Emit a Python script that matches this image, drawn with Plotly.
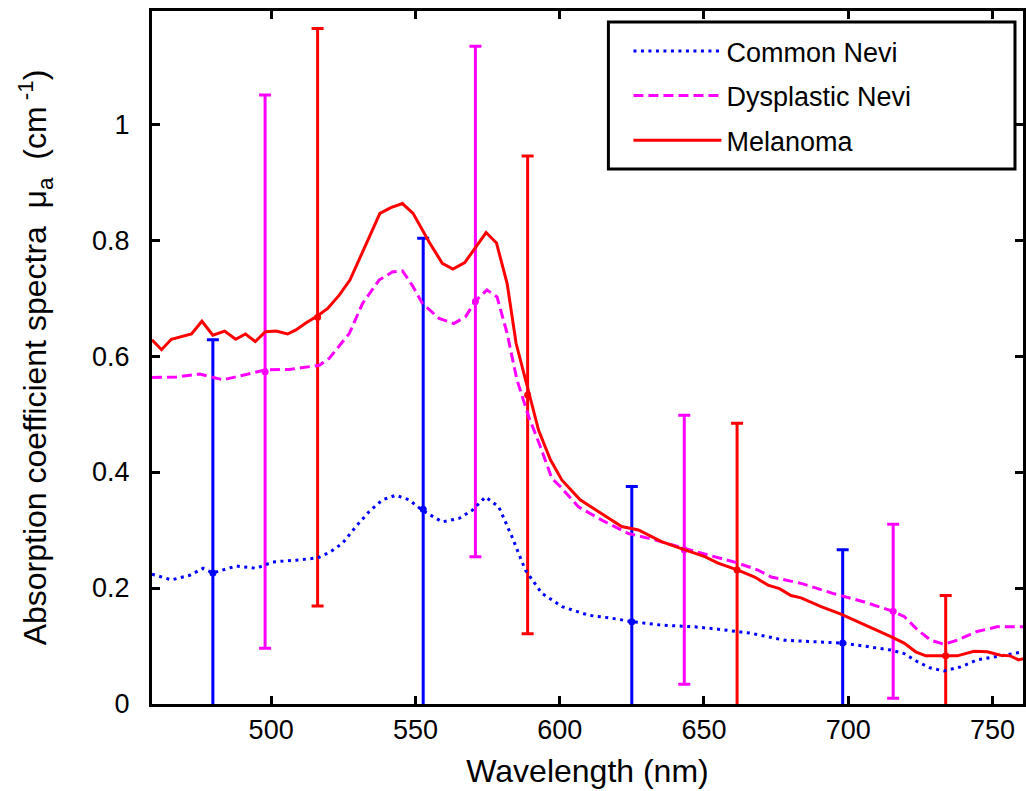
import plotly.graph_objects as go

# ---- data ----
common_wl = [458.7, 465.4, 471.8, 476.4, 479.8, 487.9, 494.8, 500.6, 508.6, 516.1, 520.1, 524.7,
             529.4, 534.0, 538.6, 543.2, 547.8, 552.4, 559.3, 565.1, 569.7, 574.3, 578.9, 583.5,
             588.1, 593.8, 600.8, 610.0, 618.0, 625.0, 635.3, 646.9, 654.9, 666.4, 677.9, 689.5,
             698.1, 706.7, 714.8, 719.4, 724.0, 728.6, 733.2, 739.0, 744.7, 751.6, 760.6]
common_val = [0.224, 0.214, 0.222, 0.234, 0.226, 0.238, 0.234, 0.245, 0.248, 0.252, 0.261, 0.277,
              0.306, 0.332, 0.352, 0.360, 0.352, 0.334, 0.314, 0.320, 0.334, 0.357, 0.340, 0.288,
              0.231, 0.191, 0.168, 0.153, 0.148, 0.142, 0.136, 0.133, 0.129, 0.122, 0.110, 0.107,
              0.105, 0.099, 0.093, 0.087, 0.073, 0.062, 0.057, 0.064, 0.076, 0.082, 0.090]

dysp_wl = [458.7, 467.2, 475.2, 483.3, 490.2, 498.0, 506.3, 516.7, 520.1, 527.1, 531.7, 537.4,
           542.0, 545.5, 548.9, 552.4, 558.2, 563.3, 567.4, 570.8, 574.8, 578.3, 581.8, 585.2,
           589.3, 593.3, 597.3, 600.2, 606.5, 614.6, 623.8, 633.0, 643.4, 654.9, 661.8, 668.7,
           673.3, 683.7, 695.2, 705.6, 714.8, 719.4, 724.0, 728.6, 733.2, 737.8, 744.7, 751.6, 760.6]
dysp_val = [0.563, 0.564, 0.569, 0.559, 0.567, 0.576, 0.577, 0.584, 0.596, 0.639, 0.691, 0.731,
            0.745, 0.747, 0.722, 0.691, 0.665, 0.656, 0.668, 0.695, 0.714, 0.702, 0.639, 0.559,
            0.495, 0.444, 0.389, 0.375, 0.340, 0.317, 0.294, 0.283, 0.268, 0.253, 0.243, 0.231,
            0.219, 0.208, 0.190, 0.176, 0.161, 0.151, 0.128, 0.110, 0.103, 0.110, 0.125, 0.133, 0.133]

mel_wl = [458.7, 462.0, 465.4, 472.4, 476.0, 479.8, 483.9, 487.7, 491.1, 494.5, 498.0, 501.7,
          505.7, 508.6, 512.0, 516.0, 519.6, 523.6, 527.3, 530.5, 535.1, 537.7, 541.5, 545.5,
          549.2, 553.0, 554.7, 559.3, 563.0, 567.1, 570.8, 574.5, 578.1, 581.8, 584.9, 589.3,
          592.7, 596.8, 600.8, 607.1, 613.4, 621.5, 627.3, 635.3, 642.2, 650.3, 654.9, 661.8,
          667.6, 672.2, 676.2, 680.2, 683.7, 690.6, 697.5, 702.1, 705.6, 714.8, 719.4, 723.4,
          726.9, 733.8, 737.8, 743.6, 748.2, 752.8, 756.2, 759.1, 760.6]
mel_val = [0.628, 0.611, 0.629, 0.638, 0.660, 0.636, 0.643, 0.629, 0.638, 0.625, 0.642, 0.643,
           0.638, 0.645, 0.657, 0.669, 0.682, 0.705, 0.731, 0.766, 0.817, 0.846, 0.856, 0.863,
           0.846, 0.811, 0.797, 0.760, 0.750, 0.761, 0.788, 0.813, 0.795, 0.725, 0.622, 0.536,
           0.472, 0.421, 0.386, 0.352, 0.332, 0.306, 0.300, 0.280, 0.268, 0.254, 0.243, 0.231,
           0.219, 0.205, 0.199, 0.187, 0.183, 0.168, 0.155, 0.145, 0.136, 0.116, 0.105, 0.090,
           0.083, 0.083, 0.083, 0.091, 0.090, 0.084, 0.083, 0.076, 0.078]

# error bars (symmetric)
common_eb_wl = [479.8, 552.7, 625.0, 698.1]
common_eb_val = [0.226, 0.336, 0.142, 0.105]
common_eb_err = [0.402, 0.467, 0.233, 0.161]

dysp_eb_wl = [497.9, 570.8, 643.2, 715.6]
dysp_eb_val = [0.573, 0.694, 0.266, 0.160]
dysp_eb_err = [0.477, 0.440, 0.232, 0.150]

mel_eb_wl = [516.1, 588.9, 661.5, 733.8]
mel_eb_val = [0.667, 0.533, 0.231, 0.083]
mel_eb_err = [0.498, 0.412, 0.253, 0.104]

series_names = ["Common Nevi", "Dysplastic Nevi", "Melanoma"]
x_ticks = [500, 550, 600, 650, 700, 750]
y_ticks = [0, 0.2, 0.4, 0.6, 0.8, 1.0]

BLUE = "#0000ff"
MAG = "#ff00ff"
RED = "#ff0000"
FONT = "Liberation Sans, Arial, sans-serif"

fig = go.Figure()

specs = [
    (common_wl, common_val, common_eb_wl, common_eb_val, common_eb_err, BLUE, "3px,4.5px", series_names[0]),
    (dysp_wl, dysp_val, dysp_eb_wl, dysp_eb_val, dysp_eb_err, MAG, "10px,5px", series_names[1]),
    (mel_wl, mel_val, mel_eb_wl, mel_eb_val, mel_eb_err, RED, "solid", series_names[2]),
]

# error bars first (under lines)
for wl, val, ewl, evl, eer, col, dash, name in specs:
    fig.add_trace(go.Scatter(
        x=ewl, y=evl, mode="markers", showlegend=False, legendgroup=name,
        marker=dict(color=col, size=7),
        error_y=dict(type="data", array=eer, symmetric=True, color=col, thickness=3, width=6),
        hoverinfo="skip",
    ))

for wl, val, ewl, evl, eer, col, dash, name in specs:
    fig.add_trace(go.Scatter(
        x=wl, y=val, mode="lines", name=name, legendgroup=name,
        line=dict(color=col, width=3, dash=dash),
    ))

# legend frame (white box with thick black border)
fig.add_shape(type="rect", xref="paper", yref="paper",
              x0=0.524, x1=0.9908, y0=0.772, y1=0.9841,
              line=dict(color="black", width=3), fillcolor="white", layer="above")

fig.update_layout(
    width=1026, height=791,
    margin=dict(l=152, r=0, t=11, b=87),
    paper_bgcolor="white", plot_bgcolor="white",
    font=dict(family=FONT, size=27, color="black"),
    showlegend=True,
    legend=dict(
        x=0.5470, y=0.977, xanchor="left", yanchor="top",
        bgcolor="rgba(0,0,0,0)", borderwidth=0,
        font=dict(family=FONT, size=27, color="black"),
        tracegroupgap=6.5, itemwidth=88,
    ),
    xaxis=dict(
        range=[458.7, 760.6], tickvals=x_ticks, ticktext=[str(v) for v in x_ticks],
        ticks="inside", ticklen=8, tickwidth=3, tickcolor="black",
        showline=True, linecolor="black", linewidth=3, mirror="ticks",
        showgrid=False, zeroline=False,
        title=dict(text="Wavelength (nm)", standoff=16),
        tickfont=dict(size=27),
    ),
    yaxis=dict(
        range=[0, 1.195], tickvals=y_ticks, ticktext=["0", "0.2", "0.4", "0.6", "0.8", "1"],
        ticks="inside", ticklen=8, tickwidth=3, tickcolor="black",
        showline=True, linecolor="black", linewidth=3, mirror="ticks",
        showgrid=False, zeroline=False, ticklabelstandoff=14,
        title=dict(text="Absorption coefficient spectra  μ<sub>a</sub>  (cm<sup> -1</sup>)", standoff=36),
        tickfont=dict(size=27),
    ),
)

fig.write_html("out.html")
